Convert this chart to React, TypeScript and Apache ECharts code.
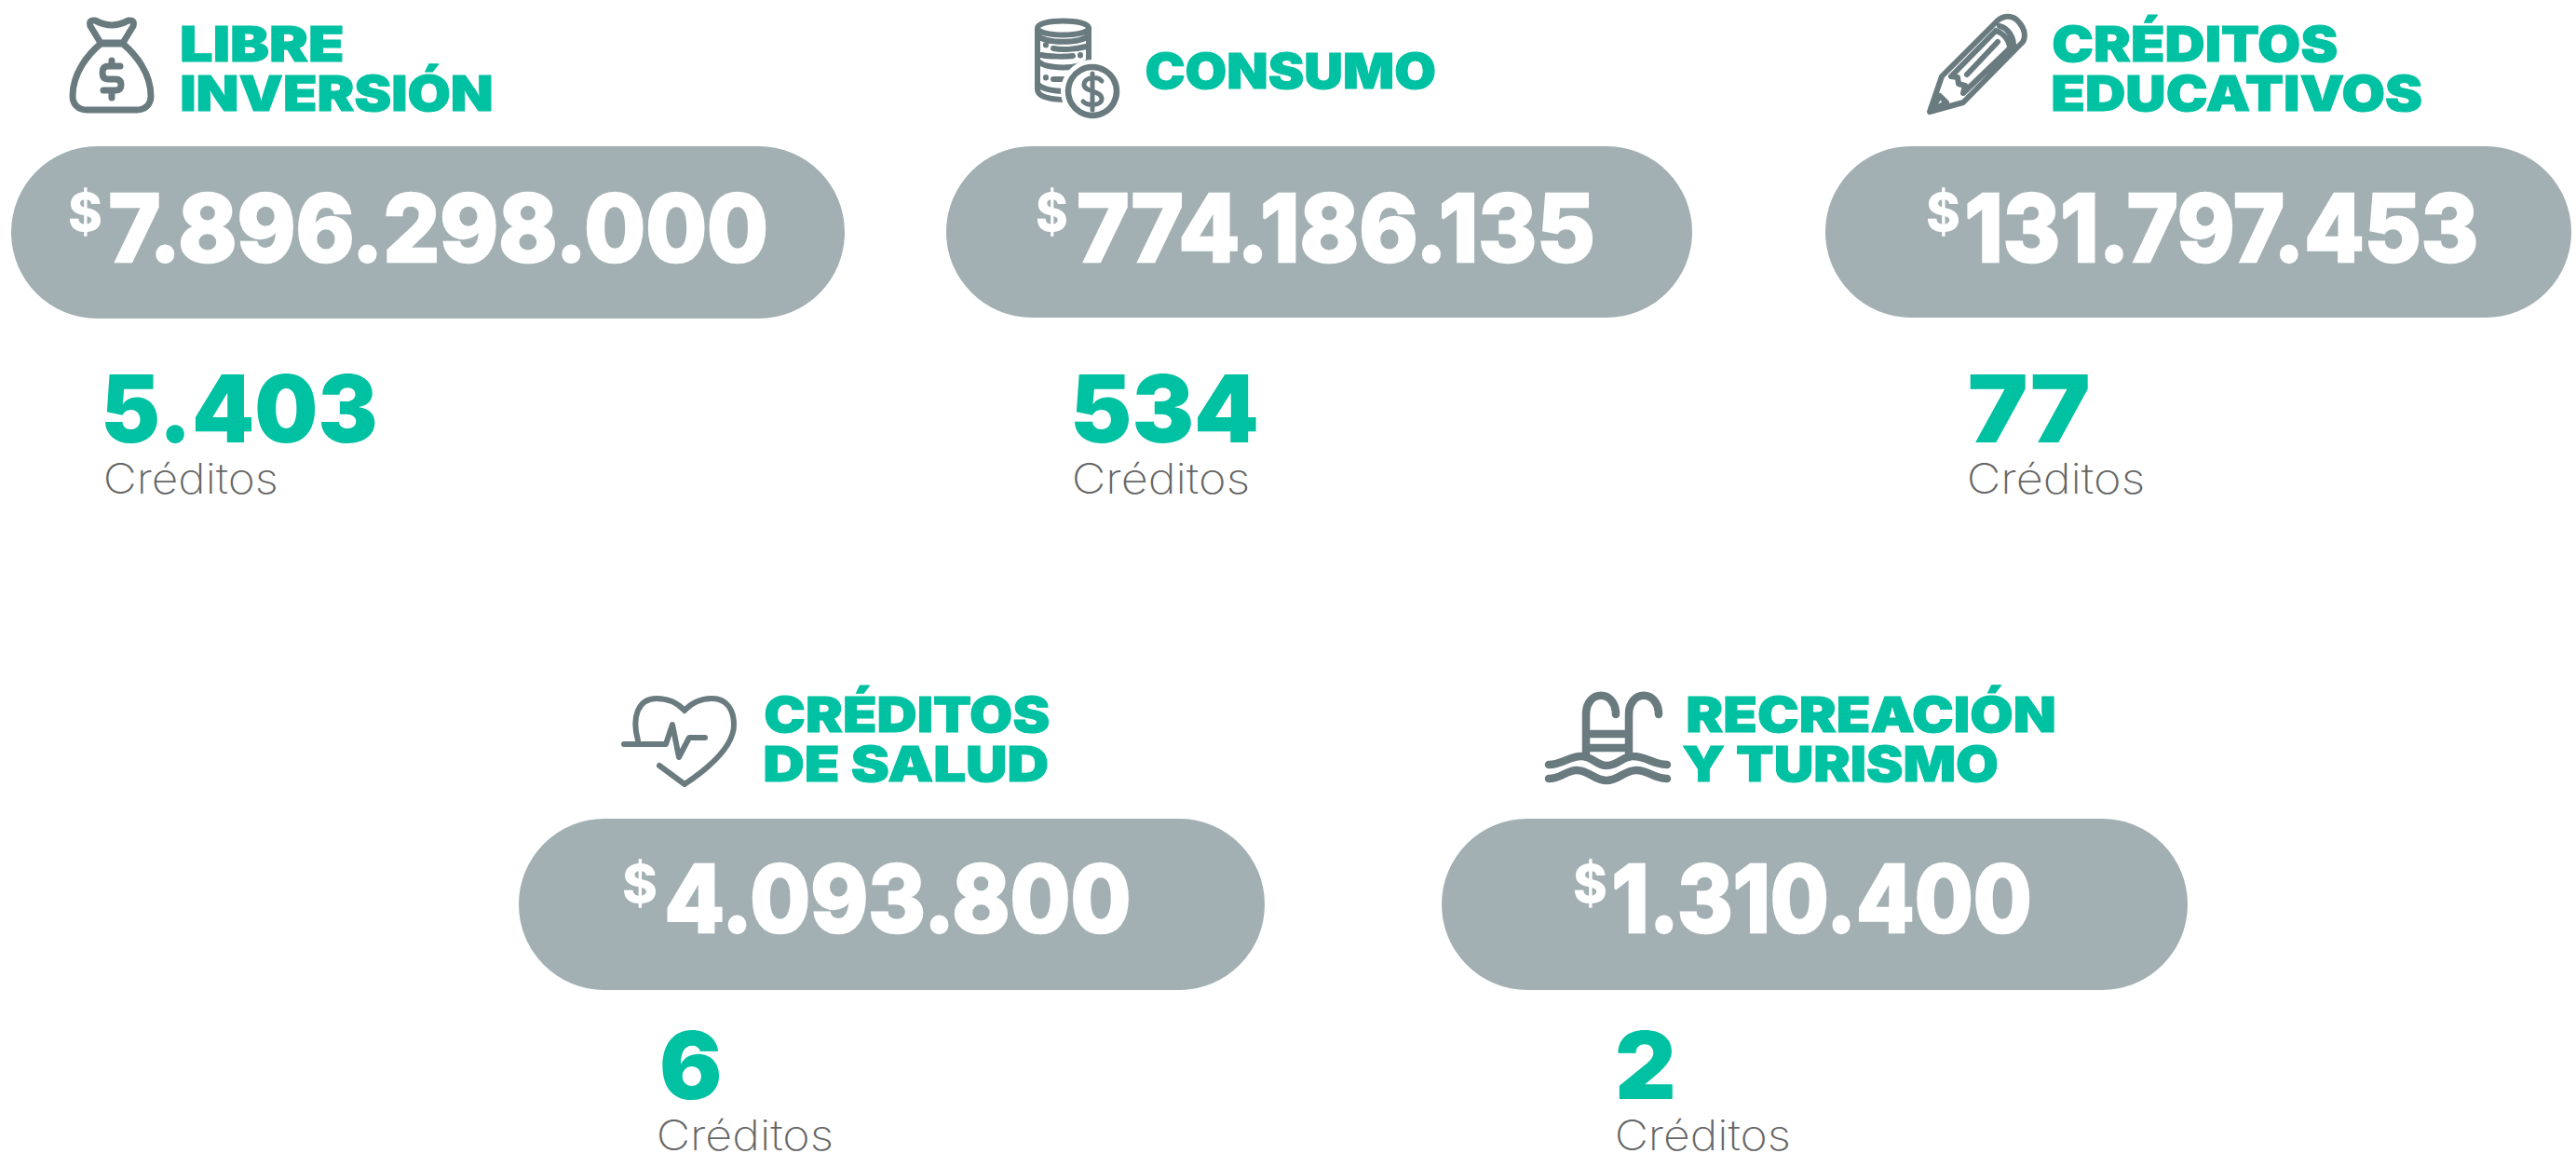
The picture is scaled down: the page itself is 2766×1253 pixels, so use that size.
import React, { useEffect, useRef } from "react";
import * as echarts from "echarts";

const titles = [["LIBRE", "INVERSIÓN"], ["CONSUMO"], ["CRÉDITOS", "EDUCATIVOS"], ["CRÉDITOS", "DE SALUD"], ["RECREACIÓN", "Y TURISMO"]];
const amounts = ["7.896.298.000", "774.186.135", "131.797.453", "4.093.800", "1.310.400"];
const counts = ["5.403", "534", "77", "6", "2"];
const unitLabel = "Créditos";
const currency = "$";

const GREEN = "#00c1a2";
const PILL = "#a3b0b3";
const ICON = "#6a7b80";
const GREY = "#666666";
const FONT = "Inter";

// [left, top, right, bottom]
const pillBoxes = [[12, 157, 907, 342], [1016, 157, 1817, 341], [1960, 157, 2761, 341], [557, 879, 1358, 1063], [1548, 879, 2349, 1063]];
// per title line: [left, right, baseline]
const titleBoxes = [
  [[195, 368, 66], [195, 528, 119]],
  [[1230, 1541, 95]],
  [[2204, 2510, 66], [2204, 2601, 119]],
  [[821, 1127, 786], [821, 1125, 839]],
  [[1812, 2206, 786], [1807, 2145, 839]],
];
const dollarBoxes = [[74, 108, 248], [1113, 1145, 248], [2069, 2103, 248], [669, 704, 969], [1690, 1724, 969]];
const amountBoxes = [[118, 823, 281], [1158, 1711, 281], [2112, 2659, 281], [716, 1213, 1001], [1733, 2180, 1001]];
const countBoxes = [[113, 403, 475], [1154, 1349, 475], [2115, 2242, 475], [711, 773, 1180], [1737, 1796, 1180]];
const unitBoxes = [[114, 296, 530], [1154, 1339, 530], [2115, 2300, 530], [708, 892, 1235], [1737, 1920, 1235]];

const iconPaths: Record<string, string> = {
  bag:
    "M108 47 C95 58 78 78 78 103 C78 112 84 118 93 118 L147 118 C156 118 162 112 162 103 C162 78 145 58 132 47 Z " +
    "M108 46 L132 46 L143 28 Q145 21 138 22 Q128 27 120 27 Q112 27 102 22 Q95 21 97 28 Z " +
    "M129 71 L116 71 Q110 71 110 78 Q110 85 116 85 L124 85 Q130 85 130 91 Q130 97 124 97 L111 97 M120 65 L120 71 M120 97 L120 105",
  stack:
    "M1114 30 C1114 20 1169 20 1169 30 C1169 40 1114 40 1114 30 Z " +
    "M1114 30 L1114 96 C1114 104 1128 107 1146 107 M1169 30 L1169 72 " +
    "M1114 38 C1122 47 1161 47 1169 38 M1114 65 C1122 75 1161 75 1169 65 M1114 90 C1120 97 1134 98 1146 98 " +
    "M1123 48 L1123 48.5 M1131 52 C1140 54 1155 53 1166 50 M1118 59 C1126 61 1145 61 1152 60 M1160 59 L1160 59.5 " +
    "M1123 83 L1123 83.5 M1131 85 L1150 85",
  coinSign:
    "M1183 87 C1179 82 1164 82 1164 91 C1164 99 1183 97 1183 106 C1183 114 1168 114 1163 109 M1173 79 L1173 118",
  pencil:
    "M2072 120 L2085 82 L2145 22 C2152 16 2162 16 2168 24 C2175 32 2175 40 2172 45 L2108 110 Z " +
    "M2147 28 C2156 30 2163 40 2162 52 M2143 33 L2095 82 L2102 83 L2103 90 L2110 92 L2108 100 L2158 52 C2158 44 2152 36 2143 33 " +
    "M2112 80 L2145 45 M2072 120 L2083 103 L2090 110 Z",
  heart:
    "M685 795 C678 770 685 750 705 750 C718 750 728 755 735 763 C742 755 752 750 765 750 C780 750 788 762 788 778 C788 800 765 822 735 842 L708 822 " +
    "M670 799 L715 799 L722 778 L729 813 L740 792 L757 792",
  pool:
    "M1703 813 L1703 767 C1703 740 1735 740 1735 767 M1749 813 L1749 767 C1749 740 1781 740 1781 767 " +
    "M1703 788 L1749 788 M1703 803 L1749 803 " +
    "M1663 821 C1678 821 1684 812 1698 812 C1710 812 1714 822 1725 822 C1738 822 1742 812 1753 812 C1768 812 1775 821 1790 821 " +
    "M1663 836 C1676 836 1682 827 1693 827 C1706 827 1712 838 1725 838 C1738 838 1744 827 1757 827 C1770 827 1776 836 1790 836",
};
const iconWidths: Record<string, number> = { bag: 7, stack: 6, coinSign: 5, pencil: 6, heart: 6, pool: 8.5 };

Object.keys(iconPaths).forEach((k) => {
  echarts.graphic.registerShape("ic_" + k, echarts.graphic.extendPath(iconPaths[k], {}));
});

const ctx = document.createElement("canvas").getContext("2d") as CanvasRenderingContext2D;

function fitted(text: string, box: number[], size: number, weight: number, fill: string, bold = 0) {
  ctx.font = `${weight} ${size}px ${FONT}`;
  const m = ctx.measureText(text);
  const ink = m.actualBoundingBoxLeft + m.actualBoundingBoxRight;
  const sx = (box[1] - box[0] - bold) / ink;
  return {
    type: "text",
    x: box[0] + bold / 2 + m.actualBoundingBoxLeft * sx,
    y: box[2] - size * 0.3635,
    scaleX: sx,
    style: {
      text,
      x: 0,
      y: 0,
      fill,
      font: `${weight} ${size}px ${FONT}`,
      align: "left",
      verticalAlign: "middle",
      stroke: bold ? fill : undefined,
      lineWidth: bold,
    },
  };
}

function icon(k: string) {
  return {
    type: "ic_" + k,
    x: 0,
    y: 0,
    style: { fill: "none", stroke: ICON, lineWidth: iconWidths[k], lineCap: "round", lineJoin: "round" },
  };
}

function buildGraphics() {
  const els: any[] = [];
  pillBoxes.forEach((b) => {
    els.push({
      type: "rect",
      shape: { x: b[0], y: b[1], width: b[2] - b[0], height: b[3] - b[1], r: (b[3] - b[1]) / 2 },
      style: { fill: PILL },
    });
  });
  els.push(icon("bag"), icon("stack"));
  els.push({ type: "circle", shape: { cx: 1173, cy: 98, r: 34 }, style: { fill: "#ffffff" } });
  els.push({ type: "circle", shape: { cx: 1173, cy: 98, r: 26 }, style: { fill: "#ffffff", stroke: ICON, lineWidth: 6.5 } });
  els.push(icon("coinSign"), icon("pencil"), icon("heart"), icon("pool"));
  titles.forEach((lines, i) => {
    lines.forEach((t, j) => els.push(fitted(t, titleBoxes[i][j], 52, 900, GREEN, 1)));
  });
  amounts.forEach((t, i) => {
    els.push(fitted(currency, dollarBoxes[i], 56, 800, "#ffffff"));
    els.push(fitted(t, amountBoxes[i], 100, 800, "#ffffff", 2.5));
  });
  counts.forEach((t, i) => {
    els.push(fitted(t, countBoxes[i], 100, 900, GREEN));
    els.push(fitted(unitLabel, unitBoxes[i], 45, 200, GREY));
  });
  return els;
}

export default function App() {
  const ref = useRef<HTMLDivElement>(null);
  useEffect(() => {
    document.body.style.margin = "0";
    const chart = echarts.init(ref.current as HTMLDivElement, undefined, { renderer: "svg" });
    chart.setOption({ animation: false, backgroundColor: "#ffffff", graphic: { elements: buildGraphics() } });
    return () => chart.dispose();
  }, []);
  return <div ref={ref} style={{ width: 2766, height: 1253 }} />;
}
